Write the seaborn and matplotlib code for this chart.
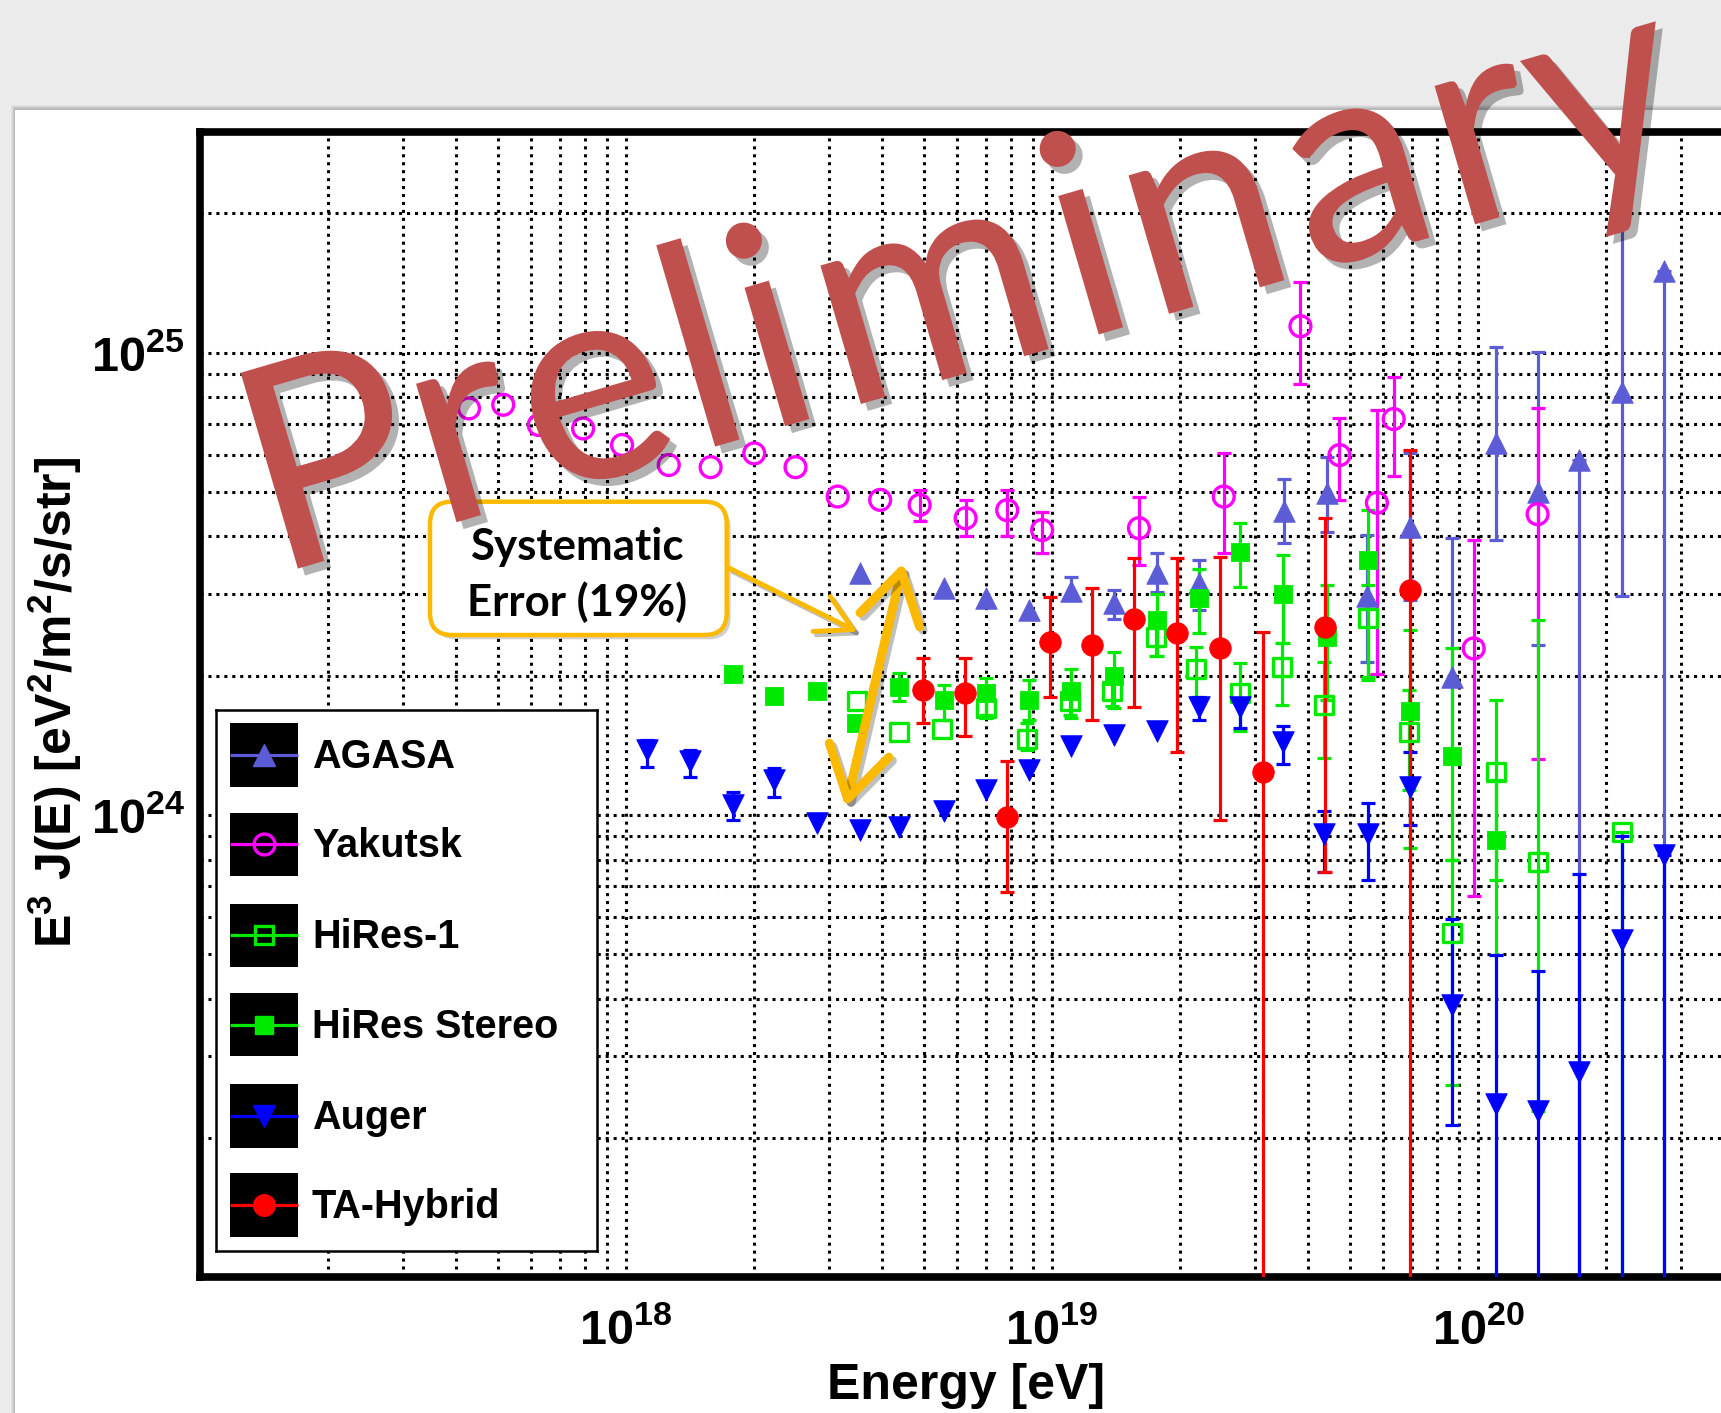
import numpy as np
import matplotlib
matplotlib.use("Agg")
import matplotlib.pyplot as plt
import matplotlib.patches as mpatches
import matplotlib.patheffects as pe
from matplotlib.ticker import LogLocator, NullFormatter
import pandas as pd
import seaborn as sns

# ---------------------------------------------------------------
# E^3 J(E) [eV^2 m^-2 s^-1 sr^-1] versus energy [eV]
# lower / upper ends of each error bar given as absolute values
# ---------------------------------------------------------------
agasa_E = [3.54e18, 5.59e18, 7.01e18, 8.81e18, 1.11e19, 1.40e19, 1.76e19, 2.21e19,
           3.50e19, 4.41e19, 5.49e19, 6.94e19, 8.69e19, 1.10e20, 1.38e20, 1.73e20,
           2.18e20, 2.74e20]
agasa_J = [3.33e24, 3.09e24, 2.94e24, 2.77e24, 3.05e24, 2.87e24, 3.33e24, 3.17e24,
           4.55e24, 4.96e24, 2.98e24, 4.20e24, 1.99e24, 6.36e24, 5.00e24, 5.85e24,
           8.23e24, 1.50e25]
agasa_lo = [3.33e24, 3.09e24, 2.94e24, 2.77e24, 2.91e24, 2.65e24, 3.04e24, 2.77e24,
            3.87e24, 4.10e24, 2.14e24, 2.91e24, 1.31e24, 3.93e24, 2.33e24, 1e22,
            2.98e24, 1e22]
agasa_hi = [3.33e24, 3.09e24, 2.94e24, 2.77e24, 3.27e24, 3.07e24, 3.68e24, 3.56e24,
            5.32e24, 5.95e24, 4.03e24, 6.07e24, 3.96e24, 1.03e25, 1.005e25, 5.85e24,
            1.92e25, 1.50e25]

yak_E = [4.28e17, 5.15e17, 6.24e17, 7.93e17, 9.79e17, 1.26e18, 1.58e18, 2.00e18,
         2.50e18, 3.14e18, 3.95e18, 4.89e18, 6.27e18, 7.85e18, 9.48e18, 1.60e19,
         2.53e19, 3.83e19, 4.73e19, 5.79e19, 6.34e19, 9.77e19, 1.38e20]
yak_J = [7.57e24, 7.71e24, 6.97e24, 6.85e24, 6.31e24, 5.71e24, 5.65e24, 6.05e24,
         5.65e24, 4.88e24, 4.80e24, 4.68e24, 4.38e24, 4.56e24, 4.13e24, 4.17e24,
         4.88e24, 1.14e25, 6.00e24, 4.73e24, 7.18e24, 2.29e24, 4.47e24]
yak_lo = [7.57e24, 7.71e24, 6.97e24, 6.85e24, 6.31e24, 5.71e24, 5.65e24, 6.05e24,
          5.65e24, 4.88e24, 4.80e24, 4.31e24, 4.00e24, 4.00e24, 3.68e24, 3.47e24,
          3.68e24, 8.55e24, 4.80e24, 2.02e24, 5.41e24, 6.67e23, 1.32e24]
yak_hi = [7.57e24, 7.71e24, 6.97e24, 6.85e24, 6.31e24, 5.71e24, 5.65e24, 6.05e24,
          5.65e24, 4.88e24, 4.80e24, 5.05e24, 4.80e24, 5.05e24, 4.53e24, 4.88e24,
          6.05e24, 1.42e25, 7.21e24, 7.52e24, 8.87e24, 3.93e24, 7.60e24]

hires1_E = [3.49e18, 4.37e18, 5.52e18, 7.01e18, 8.74e18, 1.10e19, 1.38e19, 1.75e19,
            2.18e19, 2.76e19, 3.47e19, 4.36e19, 5.51e19, 6.88e19, 8.69e19, 1.10e20,
            1.38e20, 2.18e20]
hires1_J = [1.76e24, 1.51e24, 1.53e24, 1.70e24, 1.46e24, 1.76e24, 1.85e24, 2.43e24,
            2.07e24, 1.83e24, 2.09e24, 1.73e24, 2.66e24, 1.51e24, 5.54e23, 1.24e24,
            7.91e23, 9.18e23]
hires1_lo = [1.76e24, 1.51e24, 1.53e24, 1.62e24, 1.38e24, 1.64e24, 1.72e24, 2.20e24,
             1.80e24, 1.52e24, 1.73e24, 1.33e24, 1.99e24, 1.13e24, 2.60e23, 7.22e23,
             2.29e23, 1e22]
hires1_hi = [1.76e24, 1.51e24, 1.53e24, 1.78e24, 1.58e24, 1.88e24, 2.00e24, 2.60e24,
             2.31e24, 2.13e24, 2.35e24, 2.14e24, 3.14e24, 1.86e24, 7.98e23, 1.77e24,
             2.64e24, 9.18e23]

stereo_E = [1.78e18, 2.22e18, 2.81e18, 3.46e18, 4.38e18, 5.57e18, 7.01e18, 8.81e18,
            1.11e19, 1.40e19, 1.76e19, 2.21e19, 2.77e19, 3.49e19, 4.41e19, 5.51e19,
            6.94e19, 8.69e19, 1.10e20]
stereo_J = [2.02e24, 1.81e24, 1.85e24, 1.58e24, 1.89e24, 1.77e24, 1.83e24, 1.77e24,
            1.85e24, 2.00e24, 2.64e24, 2.94e24, 3.71e24, 3.00e24, 2.43e24, 3.56e24,
            1.68e24, 1.34e24, 8.84e23]
stereo_lo = [2.02e24, 1.81e24, 1.85e24, 1.58e24, 1.76e24, 1.60e24, 1.64e24, 1.60e24,
             1.62e24, 1.70e24, 2.20e24, 2.47e24, 3.11e24, 2.35e24, 1.77e24, 1.96e24,
             8.47e23, 7.98e23, 4.97e23]
stereo_hi = [2.02e24, 1.81e24, 1.85e24, 1.58e24, 2.03e24, 1.91e24, 1.98e24, 1.96e24,
             2.07e24, 2.25e24, 3.01e24, 3.41e24, 4.27e24, 3.65e24, 3.14e24, 4.56e24,
             2.51e24, 2.29e24, 1.19e24]

auger_E = [1.12e18, 1.41e18, 1.78e18, 2.22e18, 2.81e18, 3.54e18, 4.38e18, 5.57e18,
           7.01e18, 8.81e18, 1.11e19, 1.40e19, 1.76e19, 2.21e19, 2.77e19, 3.49e19,
           4.34e19, 5.51e19, 6.94e19, 8.69e19, 1.10e20, 1.38e20, 1.73e20, 2.18e20,
           2.74e20]
auger_J = [1.38e24, 1.31e24, 1.05e24, 1.19e24, 9.58e23, 9.26e23, 9.41e23, 1.02e24,
           1.13e24, 1.25e24, 1.41e24, 1.49e24, 1.52e24, 1.71e24, 1.71e24, 1.44e24,
           9.08e23, 9.08e23, 1.15e24, 3.87e23, 2.37e23, 2.29e23, 2.78e23, 5.35e23,
           8.18e23]
auger_lo = [1.27e24, 1.21e24, 9.73e23, 1.09e24, 9.58e23, 9.26e23, 9.41e23, 1.02e24,
            1.13e24, 1.25e24, 1.41e24, 1.49e24, 1.52e24, 1.60e24, 1.54e24, 1.29e24,
            7.52e23, 7.24e23, 9.49e23, 2.13e23, 1e22, 1e22, 1e22, 1e22, 1e22]
auger_hi = [1.45e24, 1.38e24, 1.12e24, 1.26e24, 9.58e23, 9.26e23, 9.41e23, 1.02e24,
            1.13e24, 1.25e24, 1.41e24, 1.49e24, 1.52e24, 1.80e24, 1.79e24, 1.56e24,
            1.02e24, 1.06e24, 1.37e24, 5.96e23, 4.97e23, 4.60e23, 7.46e23, 9.00e23,
            8.18e23]

ta_E = [4.98e18, 6.26e18, 7.85e18, 9.91e18, 1.24e19, 1.56e19, 1.97e19, 2.48e19,
        3.13e19, 4.38e19, 6.94e19]
ta_J = [1.86e24, 1.83e24, 9.90e23, 2.37e24, 2.33e24, 2.65e24, 2.47e24, 2.29e24,
        1.24e24, 2.55e24, 3.06e24]
ta_lo = [1.58e24, 1.48e24, 6.81e23, 1.80e24, 1.60e24, 1.71e24, 1.37e24, 9.73e23,
         1e22, 7.52e23, 1e22]
ta_hi = [2.18e24, 2.18e24, 1.31e24, 2.96e24, 3.09e24, 3.59e24, 3.59e24, 3.62e24,
         2.49e24, 4.38e24, 6.15e24]

experiments = ["AGASA", "Yakutsk", "HiRes-1", "HiRes Stereo", "Auger", "TA-Hybrid"]

x_ticks = [1e18, 1e19, 1e20]
x_ticklabels = [r"$10^{18}$", r"$10^{19}$", r"$10^{20}$"]
y_ticks = [1e24, 1e25]
y_ticklabels = [r"$10^{24}$", r"$10^{25}$"]

# ---------------------------------------------------------------
sns.set_theme(style="white")
plt.rcParams["font.family"] = ["Liberation Sans", "DejaVu Sans"]
plt.rcParams["font.weight"] = "bold"
plt.rcParams["mathtext.fontset"] = "custom"
plt.rcParams["mathtext.rm"] = "Liberation Sans:bold"
plt.rcParams["mathtext.it"] = "Liberation Sans:bold"
plt.rcParams["mathtext.bf"] = "Liberation Sans:bold"
plt.rcParams["mathtext.sf"] = "Liberation Sans:bold"

W, H = 1721, 1413
fig = plt.figure(figsize=(W / 100, H / 100), dpi=100)
fig.patch.set_facecolor("#ebebeb")

# slide panel behind the plot
bg = fig.add_axes([0, 0, 1, 1], zorder=-10)
bg.set_xlim(0, W)
bg.set_ylim(H, 0)
bg.axis("off")
for k, a in enumerate([0.04, 0.05, 0.06, 0.07]):
    bg.add_patch(mpatches.Rectangle((15 - 4 + k, 110 - 5 + k), W, H,
                                    facecolor="black", alpha=a, edgecolor="none"))
bg.add_patch(mpatches.Rectangle((15, 110), W, H, facecolor="white", edgecolor="none"))

# main axes: left spine at x=200 px, one decade = 426 px, bottom at y=1277 px
ax = fig.add_axes([200 / W, 1 - 1277 / H, 1704 / W, 1145 / H], zorder=1)
ax.set_xscale("log")
ax.set_yscale("log")
ax.set_xlim(1e17, 1e21)
ax.set_ylim(1e23, 3e25)
ax.set_facecolor("white")

colors = {
    "AGASA": "#5c5cd6",
    "Yakutsk": "#ff00ff",
    "HiRes-1": "#00ea00",
    "HiRes Stereo": "#00ea00",
    "Auger": "#0000ff",
    "TA-Hybrid": "#ff0000",
}
markers = {"AGASA": "^", "Yakutsk": "o", "HiRes-1": "s", "HiRes Stereo": "s",
           "Auger": "v", "TA-Hybrid": "o"}
filled = {"AGASA": True, "Yakutsk": False, "HiRes-1": False, "HiRes Stereo": True,
          "Auger": True, "TA-Hybrid": True}
msize = {"AGASA": 15.5, "Yakutsk": 15.0, "HiRes-1": 13.0, "HiRes Stereo": 13.5,
         "Auger": 15.5, "TA-Hybrid": 15.5}

data = {
    "AGASA": (agasa_E, agasa_J, agasa_lo, agasa_hi),
    "Yakutsk": (yak_E, yak_J, yak_lo, yak_hi),
    "HiRes-1": (hires1_E, hires1_J, hires1_lo, hires1_hi),
    "HiRes Stereo": (stereo_E, stereo_J, stereo_lo, stereo_hi),
    "Auger": (auger_E, auger_J, auger_lo, auger_hi),
    "TA-Hybrid": (ta_E, ta_J, ta_lo, ta_hi),
}

for i, name in enumerate(experiments):
    E, J, lo, hi = (np.asarray(v, dtype=float) for v in data[name])
    c = colors[name]
    has_err = (hi > J) | (lo < J)
    ax.errorbar(E[has_err], J[has_err],
                yerr=[J[has_err] - lo[has_err], hi[has_err] - J[has_err]],
                fmt="none", ecolor=c, elinewidth=2.3, capsize=4.8, capthick=2.3,
                zorder=3 + i * 0.1)
    df = pd.DataFrame({"E": E, "J": J})
    if filled[name]:
        sns.scatterplot(data=df, x="E", y="J", ax=ax, marker=markers[name],
                        s=msize[name] ** 2, color=c, edgecolor=c, linewidth=0.6,
                        zorder=4 + i * 0.1, legend=False)
    else:
        sns.scatterplot(data=df, x="E", y="J", ax=ax, marker=markers[name],
                        s=msize[name] ** 2, color=c, facecolor="none", edgecolor=c,
                        linewidth=2.4, zorder=4 + i * 0.1, legend=False)

ax.set_xlim(1e17, 1e21)
ax.set_ylim(1e23, 3e25)
ax.set_xticks(x_ticks, x_ticklabels)
ax.set_yticks(y_ticks, y_ticklabels)
ax.xaxis.set_minor_locator(LogLocator(base=10, subs=np.arange(2, 10), numticks=30))
ax.yaxis.set_minor_locator(LogLocator(base=10, subs=np.arange(2, 10), numticks=30))
ax.xaxis.set_minor_formatter(NullFormatter())
ax.yaxis.set_minor_formatter(NullFormatter())
ax.set_axisbelow(True)
ax.grid(True, which="both", color="black", linestyle=(0, (1, 1.6)), linewidth=2.2)

ax.tick_params(which="both", direction="in", top=False, right=False,
               color="black", width=1.6, labelcolor="black")
ax.tick_params(axis="y", which="major", length=30, pad=11, labelsize=35)
ax.tick_params(axis="y", which="minor", length=13)
ax.tick_params(axis="x", which="major", length=20, pad=22, labelsize=35)
ax.tick_params(axis="x", which="minor", length=16)
for s in ax.spines.values():
    s.set_linewidth(5.5)
    s.set_color("black")

ax.set_xlabel("Energy [eV]", fontsize=36, fontweight="bold", color="black")
ax.xaxis.set_label_coords(0.4495, -0.075)
ax.set_ylabel(r"E$^{3}$ J(E) [eV$^{2}$/m$^{2}$/s/str]", fontsize=36,
              fontweight="bold", color="black")
ax.yaxis.set_label_coords(-0.068, 0.502)

# legend panel (pixel coordinates of the figure)
lg = fig.add_axes([216 / W, 1 - 1251 / H, (597 - 216) / W, (1251 - 710) / H], zorder=2)
lg.set_xlim(216, 597)
lg.set_ylim(1251, 710)
lg.set_xticks([])
lg.set_yticks([])
lg.set_facecolor("white")
for s in lg.spines.values():
    s.set_linewidth(1.8)
    s.set_color("black")
rows = [755, 844.3, 935.4, 1024.6, 1115.7, 1205]
for name, yc in zip(experiments, rows):
    c = colors[name]
    lg.add_patch(mpatches.Rectangle((230, yc - 31.8), 68.3, 63.6,
                                    facecolor="black", edgecolor="none"))
    lg.plot([230, 298.3], [yc, yc], color=c, lw=2.3, solid_capstyle="butt")
    if filled[name]:
        lg.plot([264], [yc], marker=markers[name], ms=msize[name], mfc=c, mec=c)
    else:
        lg.plot([264], [yc], marker=markers[name], ms=msize[name], mfc="none",
                mec=c, mew=2.4)
    lg.text(312, yc + 13, name, fontsize=28.5, fontweight="bold", color="black",
            ha="left", va="baseline")

# annotation layer in figure pixels
ov = fig.add_axes([0, 0, 1, 1], zorder=5)
ov.set_xlim(0, W)
ov.set_ylim(H, 0)
ov.axis("off")
ov.patch.set_alpha(0)

gold = "#fbb900"
box_shadow = mpatches.FancyBboxPatch((434, 506), 296.7, 133.3,
                                     boxstyle="round,pad=0,rounding_size=22",
                                     facecolor="black", alpha=0.18, edgecolor="none")
ov.add_patch(box_shadow)
box = mpatches.FancyBboxPatch((430, 501.7), 296.7, 133.3,
                              boxstyle="round,pad=0,rounding_size=22",
                              facecolor="white", edgecolor=gold, linewidth=3.2)
ov.add_patch(box)
ov.text(577, 560, "Systematic", fontsize=31.5, fontweight="bold", family="Lato",
        color="black", ha="center", va="baseline")
ov.text(577, 616, "Error (19%)", fontsize=31.5, fontweight="bold", family="Lato",
        color="black", ha="center", va="baseline")

shadow_fx = [pe.SimpleLineShadow(offset=(2.5, -2.5), shadow_color="black", alpha=0.25),
             pe.Normal()]
ov.add_patch(mpatches.FancyArrowPatch((727, 567), (860, 633),
                                      arrowstyle="->,head_length=0.9,head_width=0.5",
                                      mutation_scale=28, color=gold, lw=3.5,
                                      path_effects=shadow_fx))
ov.add_patch(mpatches.FancyArrowPatch((845, 810), (904, 560),
                                      arrowstyle="<->,head_length=0.9,head_width=0.55",
                                      mutation_scale=40, color=gold, lw=6.5,
                                      path_effects=shadow_fx))

# slanted watermark, one glyph per advance cell along a rising baseline
word = "Preliminary"
advance = {"P": 0.517, "r": 0.349, "e": 0.498, "l": 0.229, "i": 0.229,
           "m": 0.799, "n": 0.525, "a": 0.479, "y": 0.453}
em_px = 318.0
angle = 16.3
ox, oy = 276.0, 575.0
ca, sa = np.cos(np.radians(angle)), np.sin(np.radians(angle))
pos = 0.0
for ch in word:
    s_mid = (pos + advance[ch] / 2) * em_px
    ov.text(ox + s_mid * ca, oy - s_mid * sa, ch, rotation=angle,
            rotation_mode="anchor", ha="center", va="baseline", fontsize=205,
            family="Lato", fontweight="normal", color="#c0504d", zorder=10,
            path_effects=[pe.SimplePatchShadow(offset=(5, -5), shadow_rgbFace="black",
                                               alpha=0.3),
                          pe.Normal()])
    pos += advance[ch]

fig.savefig("out.png", dpi=100, facecolor=fig.get_facecolor())
